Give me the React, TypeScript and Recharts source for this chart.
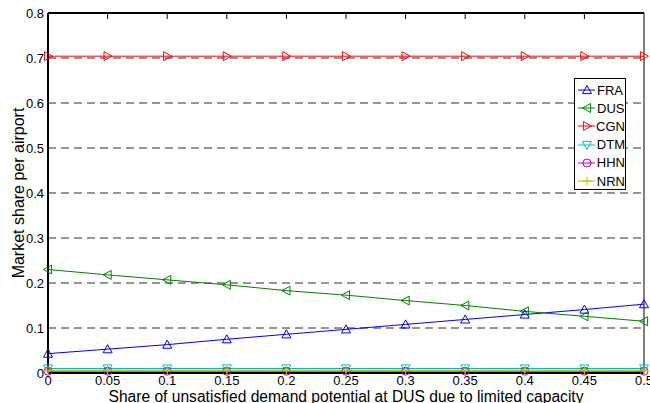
import React from 'react'
import { LineChart, Line, XAxis, YAxis, CartesianGrid, Label } from 'recharts'

const shares = [0, 0.05, 0.1, 0.15, 0.2, 0.25, 0.3, 0.35, 0.4, 0.45, 0.5]
const yTicks = [0, 0.1, 0.2, 0.3, 0.4, 0.5, 0.6, 0.7, 0.8]

const fra = [0.043, 0.053, 0.063, 0.075, 0.086, 0.097, 0.108, 0.119, 0.13, 0.141, 0.153]
const dus = [0.23, 0.218, 0.207, 0.196, 0.183, 0.173, 0.161, 0.15, 0.137, 0.126, 0.115]
const cgn = [0.704, 0.704, 0.704, 0.704, 0.704, 0.704, 0.704, 0.704, 0.704, 0.704, 0.704]
const dtm = [0.01, 0.01, 0.01, 0.01, 0.01, 0.01, 0.01, 0.01, 0.01, 0.01, 0.01]
const hhn = [0.004, 0.004, 0.004, 0.004, 0.004, 0.004, 0.004, 0.004, 0.004, 0.004, 0.004]
const nrn = [0.006, 0.006, 0.006, 0.006, 0.006, 0.006, 0.006, 0.006, 0.006, 0.006, 0.006]

const series = [
  { key: 'FRA', color: '#0000ff', marker: 'up' },
  { key: 'DUS', color: '#008000', marker: 'left' },
  { key: 'CGN', color: '#ff0000', marker: 'right' },
  { key: 'DTM', color: '#00bfbf', marker: 'down' },
  { key: 'HHN', color: '#bf00bf', marker: 'circle' },
  { key: 'NRN', color: '#bfbf00', marker: 'plus' },
]

const data = shares.map((x, i) => ({
  x,
  FRA: fra[i],
  DUS: dus[i],
  CGN: cgn[i],
  DTM: dtm[i],
  HHN: hhn[i],
  NRN: nrn[i],
}))

const FONT = '"Liberation Sans", Arial, Helvetica, sans-serif'
const X_MAX = 0.5
const Y_MAX = 0.8

function Marker({ kind, cx, cy, color }: { kind: string; cx: number; cy: number; color: string }) {
  const s = 4.5
  const common = { fill: 'none', stroke: color, strokeWidth: 1 }
  if (kind === 'up')
    return <polygon {...common} points={`${cx},${cy - s} ${cx - s},${cy + s * 0.8} ${cx + s},${cy + s * 0.8}`} />
  if (kind === 'down')
    return <polygon {...common} points={`${cx},${cy + s} ${cx - s},${cy - s * 0.8} ${cx + s},${cy - s * 0.8}`} />
  if (kind === 'left')
    return <polygon {...common} points={`${cx - s},${cy} ${cx + s * 0.8},${cy - s} ${cx + s * 0.8},${cy + s}`} />
  if (kind === 'right')
    return <polygon {...common} points={`${cx + s},${cy} ${cx - s * 0.8},${cy - s} ${cx - s * 0.8},${cy + s}`} />
  if (kind === 'circle') return <circle {...common} cx={cx} cy={cy} r={4} />
  return (
    <g stroke={color} strokeWidth={1}>
      <line x1={cx - s} x2={cx + s} y1={cy} y2={cy} />
      <line x1={cx} x2={cx} y1={cy - s} y2={cy + s} />
    </g>
  )
}

// horizontal grid: dashed, but the top one is the solid box border
function HLine(p: any) {
  const isTop = p.index === yTicks.length - 1 || (typeof p.y === 'number' && Math.abs(p.y1 - p.y) < 1)
  if (isTop) {
    return <line key={p.key} x1={p.x1} x2={p.x2} y1={p.y1} y2={p.y2} stroke="#000" strokeWidth={2} />
  }
  return (
    <line key={p.key} x1={p.x1} x2={p.x2} y1={p.y1} y2={p.y2} stroke="#2a2a2a" strokeWidth={1} strokeDasharray="8 5" />
  )
}

// vertical grid: only short inward ticks at the top, full line at the right edge
function VLine(p: any) {
  const top = Math.min(p.y1, p.y2)
  const bottom = Math.max(p.y1, p.y2)
  if (p.index === shares.length - 1) {
    return <line key={p.key} x1={p.x1} x2={p.x1} y1={top} y2={bottom} stroke="#000" strokeWidth={1} />
  }
  return <line key={p.key} x1={p.x1} x2={p.x1} y1={top} y2={top + 6} stroke="#000" strokeWidth={1} />
}

function LegendBox() {
  return (
    <div
      style={{
        position: 'absolute',
        left: 574,
        top: 78,
        width: 52,
        height: 112,
        border: '1px solid #000',
        background: '#fff',
        fontFamily: FONT,
        fontSize: 13,
        paddingTop: 2,
        boxSizing: 'border-box',
      }}
    >
      {series.map((s) => (
        <div key={s.key} style={{ display: 'flex', alignItems: 'center', height: 18.2 }}>
          <svg width={20} height={12} style={{ marginLeft: 2 }}>
            <line x1={1} x2={18} y1={6} y2={6} stroke={s.color} strokeWidth={1} />
            <Marker kind={s.marker} cx={10} cy={6} color={s.color} />
          </svg>
          <span style={{ lineHeight: '13px' }}>{s.key}</span>
        </div>
      ))}
    </div>
  )
}

export default function App() {
  return (
    <div style={{ position: 'absolute', left: 0, top: 0, width: 650, height: 403, background: '#fff', fontFamily: FONT }}>
      <LineChart width={650} height={403} data={data} margin={{ top: 13, right: 6, bottom: 0, left: 0 }}>
        <CartesianGrid horizontal={HLine} vertical={VLine} />
        <XAxis
          dataKey="x"
          type="number"
          domain={[0, X_MAX]}
          ticks={shares}
          height={30}
          tickSize={0}
          tickMargin={3}
          tickLine={false}
          axisLine={{ stroke: '#000', strokeWidth: 2 }}
          tick={{ fill: '#000', fontSize: 13, fontFamily: FONT }}
          interval={0}
        >
          <Label
            value="Share of unsatisfied demand potential at DUS due to limited capacity"
            position="insideBottom"
            offset={1.5}
            style={{ fill: '#000', fontSize: 15.6, fontFamily: FONT }}
          />
        </XAxis>
        <YAxis
          type="number"
          domain={[0, Y_MAX]}
          ticks={yTicks}
          width={48}
          tickSize={0}
          tickMargin={4}
          tickLine={false}
          axisLine={{ stroke: '#000', strokeWidth: 2 }}
          tick={{ fill: '#000', fontSize: 13, fontFamily: FONT }}
          interval={0}
        >
          <Label
            value="Market share per airport"
            angle={-90}
            position="insideLeft"
            offset={18}
            style={{ fill: '#000', fontSize: 16, fontFamily: FONT, textAnchor: 'middle' }}
          />
        </YAxis>
        {series.map((s) => (
          <Line
            key={s.key}
            dataKey={s.key}
            type="linear"
            stroke={s.color}
            strokeWidth={1}
            isAnimationActive={false}
            activeDot={false}
            dot={(p: any) => <Marker key={`${s.key}-${p.index}`} kind={s.marker} cx={p.cx} cy={p.cy} color={s.color} />}
          />
        ))}
      </LineChart>
      <LegendBox />
    </div>
  )
}
